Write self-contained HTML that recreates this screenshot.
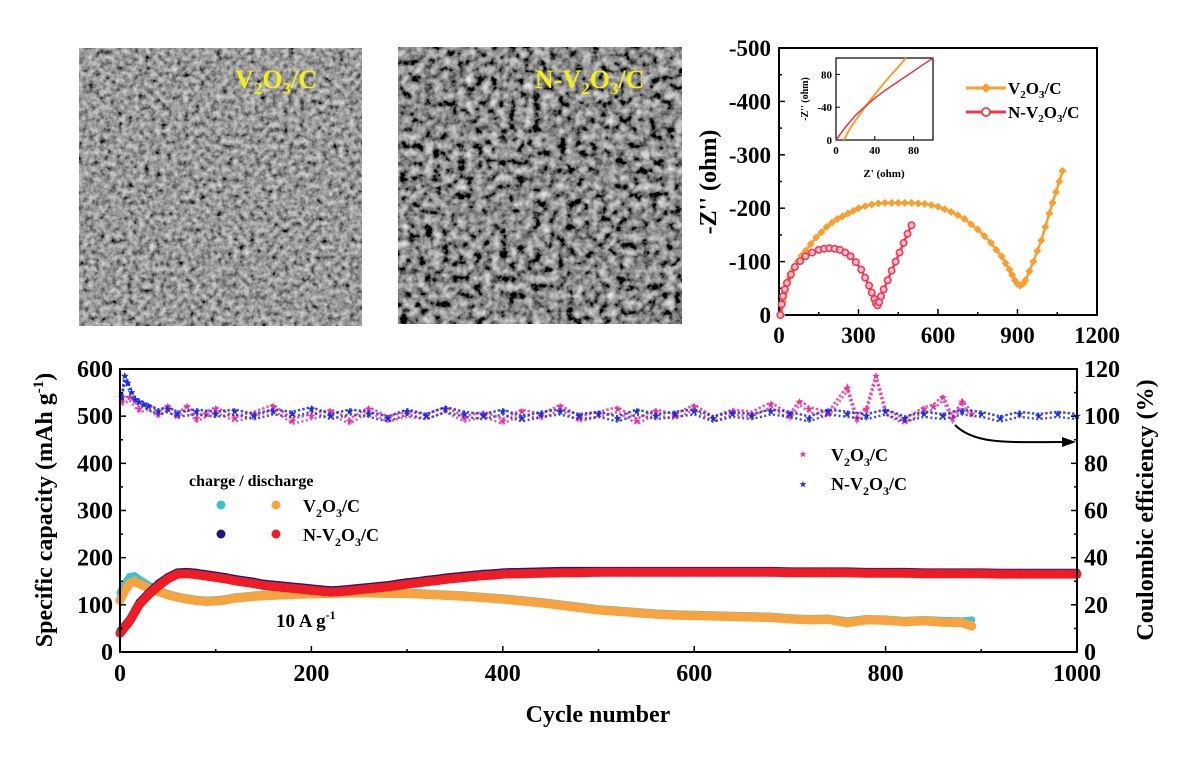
<!DOCTYPE html>
<html><head><meta charset="utf-8">
<style>
html,body{margin:0;padding:0;background:#fff;}
svg{display:block;font-family:"Liberation Serif",serif;font-weight:bold;}
</style></head>
<body>
<svg id="fig" width="1200" height="764" viewBox="0 0 1200 764" xmlns="http://www.w3.org/2000/svg">
<defs>
<filter id="semA" x="0" y="0" width="100%" height="100%">
<feTurbulence type="fractalNoise" baseFrequency="0.18" numOctaves="3" seed="5" result="n"/>
<feColorMatrix in="n" type="matrix" values="0.9 0.3 0 0 -0.28  0.9 0.3 0 0 -0.28  0.9 0.3 0 0 -0.28  0 0 0 0 1"/>
</filter>
<filter id="semB" x="0" y="0" width="100%" height="100%">
<feTurbulence type="fractalNoise" baseFrequency="0.12" numOctaves="3" seed="11" result="n"/>
<feColorMatrix in="n" type="matrix" values="1.2 0.35 0 0 -0.52  1.2 0.35 0 0 -0.52  1.2 0.35 0 0 -0.52  0 0 0 0 1"/>
</filter>
</defs>
<rect width="1200" height="764" fill="#fff"/>
<g>
<rect x="79" y="48" width="283" height="278" fill="#6c6c6c"/>
<rect x="79" y="48" width="283" height="278" filter="url(#semA)"/>
<text x="235" y="88" font-size="26" fill="#f2ef1a">V<tspan font-size="17" dy="6">2</tspan><tspan dy="-6">O</tspan><tspan font-size="17" dy="6">3</tspan><tspan dy="-6">/C</tspan></text>
</g>
<g>
<rect x="398" y="47" width="284" height="277" fill="#555"/>
<rect x="398" y="47" width="284" height="277" filter="url(#semB)"/>
<text x="535" y="88" font-size="26" fill="#f2ef1a">N-V<tspan font-size="17" dy="6">2</tspan><tspan dy="-6">O</tspan><tspan font-size="17" dy="6">3</tspan><tspan dy="-6">/C</tspan></text>
</g>
<g id="eis"></g>
<g id="cyc"></g>
</svg>
<script>
// ---------- EIS data ----------
const eisV2O3x = [10,15,20,30,40,55,70,85,100,120,140,160,180,200,220,240,260,280,300,325,350,375,400,425,450,475,500,525,550,575,600,625,650,675,700,725,750,775,800,820,840,855,870,880,890,900,910,920,930,945,960,975,990,1005,1020,1032,1045,1058,1070];
const eisV2O3y = [0,25,40,57,70,86,100,111,120,133,145,155,165,173,180,185,190,195,200,204,207,209,210,210,210,210,210,209,208,206,203,198,193,187,180,170,160,148,135,122,110,97,85,75,65,58,55,58,65,82,100,120,140,165,190,210,230,250,270];
const eisNx = [5,10,15,22,30,45,60,80,100,125,150,170,190,210,230,250,270,290,310,325,340,350,360,366,372,378,385,395,410,425,440,455,470,485,500];
const eisNy = [0,20,35,48,60,76,90,101,110,117,122,124,125,124,122,117,110,99,85,70,55,42,30,22,18,24,35,48,65,83,100,117,135,152,168];
const eisXTicks = [0,300,600,900,1200];
const eisYTicks = [0,100,200,300,400,500];
const insetV2O3x = [8,15,25,35,45,55,65,72];
const insetV2O3y = [0,15,32,48,63,77,90,100];
const insetNx = [0,10,20,30,40,50,60,70,80,90,100];
const insetNy = [0,16,30,41,51,60,68,76,84,92,100];
const insetXTicks = [0,40,80];
const insetYTicks = [0,40,80];
const insetYTickLabels = ['0','-40','80'];

// ---------- cycling data (every 10 cycles) ----------
const cycN = [0,10,20,30,40,50,60,70,80,90,100,110,120,130,140,150,160,170,180,190,200,210,220,230,240,250,260,270,280,290,300,310,320,330,340,350,360,370,380,390,400,420,440,460,480,500,520,540,560,580,600,620,640,660,680,700,720,740,760,780,800,820,840,860,880,900,920,940,960,980,1000];
const capNDis = [40,65,100,122,140,155,165,166,164,161,158,155,151,148,145,141,139,137,135,133,131,129,127,128,130,132,134,136,138,141,144,146,149,151,154,156,158,160,162,163,165,166,167,168,168,169,169,169,169,169,169,169,169,169,169,168,168,168,168,167,167,167,166,166,166,166,165,165,165,165,165];
const capNCha = [45,70,106,127,146,160,170,171,169,166,163,160,156,153,150,146,144,142,140,138,136,134,132,133,135,137,139,141,143,146,149,151,154,156,159,161,163,165,167,168,170,171,172,173,173,173,173,173,173,173,173,173,173,173,173,172,172,172,172,171,171,171,170,170,170,170,169,169,169,169,169];
const cycV = [0,5,10,15,20,30,40,50,60,70,80,90,100,110,120,140,160,180,200,220,240,260,280,300,320,340,360,380,400,420,440,460,480,500,520,540,560,580,600,620,640,660,680,700,720,740,760,780,800,820,840,860,880,890];
const capVDis = [110,130,145,150,145,135,128,121,116,112,109,107,108,110,114,118,120,122,123,124,125,125,124,124,122,120,118,115,112,108,104,99,94,89,86,83,80,78,77,76,75,74,73,70,68,69,62,68,67,64,66,63,62,55];
const capVCha = [125,145,160,162,155,142,132,124,119,115,112,110,111,113,117,121,123,125,126,127,128,128,127,127,125,123,121,118,115,111,107,102,97,92,89,86,83,81,80,79,78,77,76,73,71,72,66,71,70,67,69,67,66,68];
const ceVx = [2,10,20,30,40,50,60,70,80,90,100,120,140,160,180,200,220,240,260,280,300,320,340,360,380,400,420,440,460,480,500,520,540,560,580,600,620,640,660,680,700,710,720,740,760,770,780,790,800,820,840,850,860,870,880,890];
const ceV = [106,108,103,104,101,104,100,104,99,101,103,99,101,104,98,100,102,98,103,99,101,100,103,99,101,98,102,100,104,99,101,103,98,102,100,104,99,102,101,105,100,106,103,101,112,99,103,117,102,98,103,104,108,99,106,101];
const ceNx = [2,5,8,12,16,20,25,30,40,50,60,80,100,120,140,160,180,200,220,240,260,280,300,320,340,360,380,400,420,440,460,480,500,520,540,560,580,600,620,640,660,680,700,720,740,760,780,800,820,840,860,880,900,920,940,960,980,1000];
const ceN = [108,117,114,110,107,106,105,104,102,103,101,102,101,102,100,102,101,103,100,102,101,99,102,100,103,101,100,102,99,101,102,100,101,99,102,100,101,102,99,101,100,102,101,99,102,101,100,102,99,101,100,102,101,99,101,100,101,100];
const cycXTicks = [0,200,400,600,800,1000];
const capTicks = [0,100,200,300,400,500,600];
const ceTicks = [0,20,40,60,80,100,120];

const NS = 'http://www.w3.org/2000/svg';
function mk(tag, attrs, parent, txt){const e=document.createElementNS(NS,tag);for(const k in attrs)e.setAttribute(k,attrs[k]);if(txt!==undefined)e.textContent=txt;parent.appendChild(e);return e;}

// ---------- EIS chart ----------
const eis = document.getElementById('eis');
const ex0=779, ex1=1097, ey0=315, ey1=48;
const eX = v => ex0 + v*(ex1-ex0)/1200;
const eY = v => ey0 - v*(ey0-ey1)/500;
let frame = mk('rect',{x:ex0,y:ey1,width:ex1-ex0,height:ey0-ey1,fill:'none',stroke:'#000','stroke-width':2},eis);


eisXTicks.forEach((t,i)=>{
  const x=eX(t);
  mk('line',{x1:x,y1:ey0,x2:x,y2:ey0-6,stroke:'#000','stroke-width':1.5},eis);
  if(i<eisXTicks.length-1){mk('line',{x1:eX(t+150),y1:ey0,x2:eX(t+150),y2:ey0-3,stroke:'#000','stroke-width':1.5},eis);}
  const tx=mk('text',{x:x,y:ey0+28,'font-size':23,'text-anchor':'middle'},eis,String(t));
  
  
});
eisYTicks.forEach((t,i)=>{
  const y=eY(t);
  mk('line',{x1:ex0,y1:y,x2:ex0+6,y2:y,stroke:'#000','stroke-width':1.5},eis);
  if(i<eisYTicks.length-1){mk('line',{x1:ex0,y1:eY(t+50),x2:ex0+3,y2:eY(t+50),stroke:'#000','stroke-width':1.5},eis);}
  const tx=mk('text',{x:ex0-8,y:y+8,'font-size':23,'text-anchor':'end'},eis,t===0?'0':'-'+t);
  
  
});
let eyt=mk('text',{x:0,y:0,'font-size':24,'text-anchor':'middle',transform:'translate(716,182) rotate(-90)'},eis,"-Z'' (ohm)");


function eisSeries(xs,ys,color,name,diamond){
  const g=mk('g',{},eis);
  
  
  mk('polyline',{points:xs.map((x,i)=>eX(x)+','+eY(ys[i])).join(' '),fill:'none',stroke:color,'stroke-width':2.5},g);
  xs.forEach((x,i)=>{
    const cx=eX(x), cy=eY(ys[i]);
    let m;
    if(diamond) m=mk('polygon',{points:`${cx},${cy-4} ${cx+4},${cy} ${cx},${cy+4} ${cx-4},${cy}`,fill:color},g);
    else m=mk('circle',{cx:cx,cy:cy,r:3.2,fill:'#fbd',stroke:color,'stroke-width':1.6},g);
    
    
  });
}
eisSeries(eisV2O3x,eisV2O3y,'#f7a02f','eis-series-v2o3c',true);
eisSeries(eisNx,eisNy,'#ee3b4a','eis-series-n-v2o3c',false);
// legend
const eLeg=mk('g',{},eis);


mk('line',{x1:966,y1:88,x2:1006,y2:88,stroke:'#f7a02f','stroke-width':3},eLeg);
mk('polygon',{points:'986,83 991,88 986,93 981,88',fill:'#f7a02f'},eLeg);
mk('text',{x:1008,y:94,'font-size':17},eLeg).innerHTML='V<tspan font-size="11" dy="4">2</tspan><tspan dy="-4">O</tspan><tspan font-size="11" dy="4">3</tspan><tspan dy="-4">/C</tspan>';
mk('line',{x1:966,y1:112,x2:1006,y2:112,stroke:'#ee3b4a','stroke-width':3},eLeg);
mk('circle',{cx:986,cy:112,r:4,fill:'#fff',stroke:'#ee3b4a','stroke-width':1.8},eLeg);
mk('text',{x:1008,y:118,'font-size':17},eLeg).innerHTML='N-V<tspan font-size="11" dy="4">2</tspan><tspan dy="-4">O</tspan><tspan font-size="11" dy="4">3</tspan><tspan dy="-4">/C</tspan>';
// inset
const ins=mk('g',{},eis);


const ix0=836, ix1=933, iy0=140, iy1=58;
const iX=v=>ix0+v*(ix1-ix0)/100, iY=v=>iy0-v*(iy0-iy1)/100;
mk('rect',{x:ix0,y:iy1,width:ix1-ix0,height:iy0-iy1,fill:'#fff',stroke:'#000','stroke-width':1.2},ins);
insetXTicks.forEach(t=>{mk('line',{x1:iX(t),y1:iy0,x2:iX(t),y2:iy0-4,stroke:'#000'},ins);mk('text',{x:iX(t),y:iy0+14,'font-size':11,'text-anchor':'middle'},ins,String(t));});
insetYTicks.forEach((t,i)=>{mk('line',{x1:ix0,y1:iY(t),x2:ix0+4,y2:iY(t),stroke:'#000'},ins);mk('text',{x:ix0-4,y:iY(t)+4,'font-size':11,'text-anchor':'end'},ins,insetYTickLabels[i]);});
mk('text',{x:884,y:177,'font-size':11,'text-anchor':'middle'},ins,"Z' (ohm)");
mk('text',{x:0,y:0,'font-size':10,'text-anchor':'middle',transform:'translate(808,99) rotate(-90)'},ins,"-Z'' (ohm)");
mk('polyline',{points:insetV2O3x.map((x,i)=>iX(x)+','+iY(insetV2O3y[i])).join(' '),fill:'none',stroke:'#f7a02f','stroke-width':2},ins);
mk('polyline',{points:insetNx.map((x,i)=>iX(x)+','+iY(insetNy[i])).join(' '),fill:'none',stroke:'#e8303f','stroke-width':1.5},ins);

// ---------- Cycling chart ----------
const cyc=document.getElementById('cyc');
const cx0=120, cx1=1077, cy0=652, cy1=369;
const cX=v=>cx0+v*(cx1-cx0)/1000;
const capY=v=>cy0-v*(cy0-cy1)/600;
const ceY=v=>cy0-v*(cy0-cy1)/120;
function ceSeries(xs,ys,color,name){
  const g=mk('g',{},cyc);
  
  
  mk('polyline',{points:xs.map((x,i)=>cX(x)+','+(ceY(ys[i])-2)).join(' '),fill:'none',stroke:color,'stroke-width':2.5,'stroke-dasharray':'2.5 2',opacity:0.85},g);
  mk('polyline',{points:xs.map((x,i)=>cX(x)+','+(ceY(ys[i])+3)).join(' '),fill:'none',stroke:color,'stroke-width':2.5,'stroke-dasharray':'2 2.5',opacity:0.85},g);
  xs.forEach((x,i)=>{
    const y=ceY(ys[i]);
    const p=mk('text',{x:cX(x),y:y+3,'font-size':9,fill:color,'text-anchor':'middle'},g,'★');
    
    
  });
}
ceSeries(ceVx,ceV,'#e7359a','ce-series-v2o3c');
ceSeries(ceNx,ceN,'#1b2de0','ce-series-n-v2o3c');
function capSeries(xs,ys,color,name,r){
  const g=mk('g',{},cyc);
  
  
  mk('polyline',{points:xs.map((x,i)=>cX(x)+','+capY(ys[i])).join(' '),fill:'none',stroke:color,'stroke-width':r*2,'stroke-linejoin':'round','stroke-linecap':'round'},g);
  xs.forEach((x,i)=>{
    const c=mk('circle',{cx:cX(x),cy:capY(ys[i]),r:r,fill:color},g);
    
    
  });
}
capSeries(cycV,capVCha,'#3cc3cf','capacity-charge-v2o3c',3.5);
capSeries(cycV,capVDis,'#f7a440','capacity-discharge-v2o3c',4.5);
capSeries(cycN,capNCha,'#1a1a7a','capacity-charge-n-v2o3c',3.5);
capSeries(cycN,capNDis,'#ee1c24','capacity-discharge-n-v2o3c',4.5);
let cf=mk('rect',{x:cx0,y:cy1,width:cx1-cx0,height:cy0-cy1,fill:'none',stroke:'#000','stroke-width':2},cyc);


cycXTicks.forEach((t,i)=>{
  const x=cX(t);
  mk('line',{x1:x,y1:cy0,x2:x,y2:cy0-6,stroke:'#000','stroke-width':1.5},cyc);
  if(i<cycXTicks.length-1) mk('line',{x1:cX(t+100),y1:cy0,x2:cX(t+100),y2:cy0-3,stroke:'#000','stroke-width':1.5},cyc);
  const tx=mk('text',{x:x,y:cy0+29,'font-size':24,'text-anchor':'middle'},cyc,String(t));
  
  
});
capTicks.forEach((t,i)=>{
  const y=capY(t);
  mk('line',{x1:cx0,y1:y,x2:cx0+6,y2:y,stroke:'#000','stroke-width':1.5},cyc);
  if(i<capTicks.length-1) mk('line',{x1:cx0,y1:capY(t+50),x2:cx0+3,y2:capY(t+50),stroke:'#000','stroke-width':1.5},cyc);
  const tx=mk('text',{x:cx0-7,y:y+8,'font-size':24,'text-anchor':'end'},cyc,String(t));
  
  
});
ceTicks.forEach((t,i)=>{
  const y=ceY(t);
  mk('line',{x1:cx1,y1:y,x2:cx1-6,y2:y,stroke:'#000','stroke-width':1.5},cyc);
  if(i<ceTicks.length-1) mk('line',{x1:cx1,y1:ceY(t+10),x2:cx1-3,y2:ceY(t+10),stroke:'#000','stroke-width':1.5},cyc);
  const tx=mk('text',{x:cx1+7,y:y+8,'font-size':24},cyc,String(t));
  
  
});
let xt=mk('text',{x:598,y:722,'font-size':24,'text-anchor':'middle'},cyc,'Cycle number');


let ly=mk('text',{x:0,y:0,'font-size':24,'text-anchor':'middle',transform:'translate(52,510) rotate(-90)'},cyc);
ly.innerHTML='Specific capacity (mAh g<tspan font-size="15" dy="-9">-1</tspan><tspan dy="9">)</tspan>';


let ry=mk('text',{x:0,y:0,'font-size':24,'text-anchor':'middle',transform:'translate(1153,510) rotate(-90)'},cyc,'Coulombic efficiency (%)');


let ar=mk('path',{d:'M955,425 C975,445 1010,442 1062,442',fill:'none',stroke:'#000','stroke-width':2},cyc);


mk('polygon',{points:'1076,442 1062,437 1062,447',fill:'#000'},cyc);
const lg=mk('g',{},cyc);


mk('text',{x:189,y:486,'font-size':16},lg,'charge / discharge');
mk('circle',{cx:221,cy:505,r:4.5,fill:'#3cc3cf'},lg);
mk('circle',{cx:276,cy:505,r:4.5,fill:'#f7a440'},lg);
mk('circle',{cx:221,cy:534,r:4.5,fill:'#1a1a7a'},lg);
mk('circle',{cx:276,cy:534,r:4.5,fill:'#ee1c24'},lg);
mk('text',{x:303,y:512,'font-size':18},lg).innerHTML='V<tspan font-size="12" dy="5">2</tspan><tspan dy="-5">O</tspan><tspan font-size="12" dy="5">3</tspan><tspan dy="-5">/C</tspan>';
mk('text',{x:303,y:541,'font-size':18},lg).innerHTML='N-V<tspan font-size="12" dy="5">2</tspan><tspan dy="-5">O</tspan><tspan font-size="12" dy="5">3</tspan><tspan dy="-5">/C</tspan>';
const lg2=mk('g',{},cyc);


mk('text',{x:803,y:457,'font-size':8,fill:'#e7359a','text-anchor':'middle'},lg2,'★');
mk('text',{x:803,y:487,'font-size':8,fill:'#1b2de0','text-anchor':'middle'},lg2,'★');
mk('text',{x:831,y:461,'font-size':18},lg2).innerHTML='V<tspan font-size="12" dy="5">2</tspan><tspan dy="-5">O</tspan><tspan font-size="12" dy="5">3</tspan><tspan dy="-5">/C</tspan>';
mk('text',{x:831,y:490,'font-size':18},lg2).innerHTML='N-V<tspan font-size="12" dy="5">2</tspan><tspan dy="-5">O</tspan><tspan font-size="12" dy="5">3</tspan><tspan dy="-5">/C</tspan>';
let rt=mk('text',{x:276,y:627,'font-size':19},cyc);
rt.innerHTML='10 A g<tspan font-size="12" dy="-8">-1</tspan>';


</script>
</body></html>
